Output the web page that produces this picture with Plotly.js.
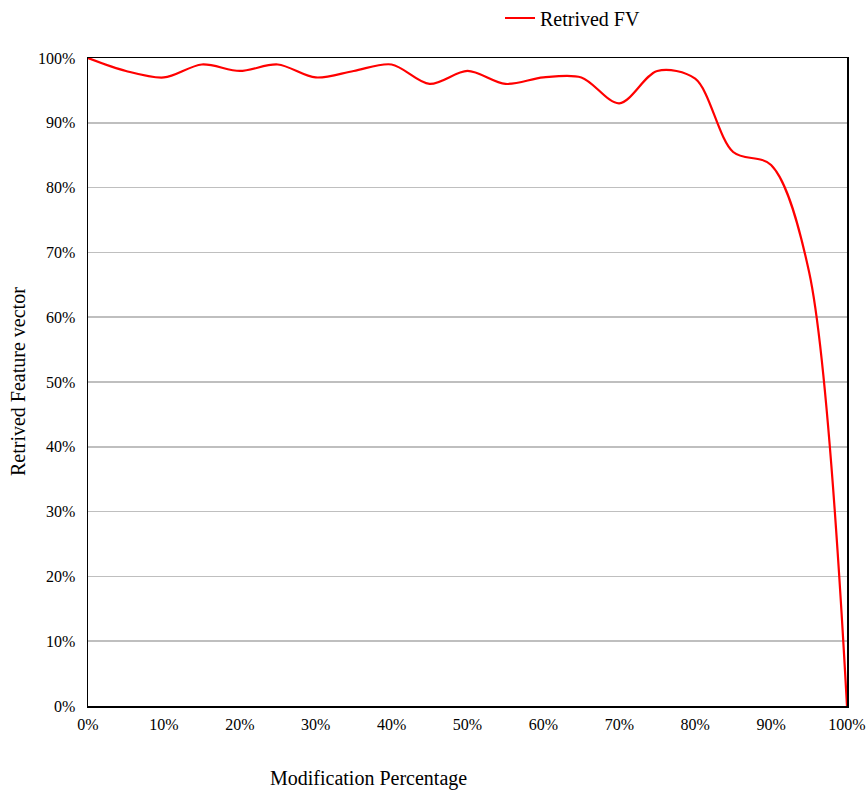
<!DOCTYPE html>
<html>
<head>
<meta charset="utf-8">
<script src="https://cdn.plot.ly/plotly-3.0.1.min.js"></script>
<style>html,body{margin:0;padding:0;background:#fff;}#chart{width:867px;height:792px;}</style>
</head>
<body>
<div id="chart"></div>
<script>
const modificationPct = [0, 5, 10, 15, 20, 25, 30, 35, 40, 45, 50, 55, 60, 65, 70, 75, 80, 85, 90, 95, 100];
const retrivedFV = [100, 98, 97, 99, 98, 99, 97, 98, 99, 96, 98, 96, 97, 97, 93, 98, 96.8, 85.5, 83.5, 67, 0];
const tickVals = [0, 10, 20, 30, 40, 50, 60, 70, 80, 90, 100];
const tickText = tickVals.map(v => v + '%');
const seriesName = 'Retrived FV';
const xTitle = 'Modification Percentage';
const yTitle = 'Retrived Feature vector';

const font = 'Liberation Serif, Times New Roman, serif';

const trace = {
  x: modificationPct,
  y: retrivedFV,
  type: 'scatter',
  mode: 'lines',
  name: seriesName,
  line: {color: '#ff0000', width: 2.2, shape: 'spline', smoothing: 0.9}
};

const axisCommon = {
  range: [0, 100],
  tickvals: tickVals,
  ticktext: tickText,
  showline: true,
  linecolor: '#000',
  linewidth: 1.5,
  mirror: true,
  zeroline: false,
  ticks: '',
  automargin: false,
  tickfont: {family: font, size: 16, color: '#000'}
};

const layout = {
  width: 867,
  height: 792,
  margin: {l: 88, r: 20, t: 58, b: 86, autoexpand: false},
  paper_bgcolor: '#fff',
  plot_bgcolor: '#fff',
  font: {family: font, color: '#000'},
  showlegend: true,
  legend: {
    orientation: 'h',
    x: (500 - 88) / 759, xanchor: 'left',
    y: (706 - 18) / 648, yanchor: 'middle',
    yref: 'paper',
    font: {family: font, size: 20, color: '#000'},
    bgcolor: 'rgba(0,0,0,0)'
  },
  xaxis: Object.assign({}, axisCommon, {showgrid: false, ticklabelstandoff: 3}),
  yaxis: Object.assign({}, axisCommon, {showgrid: true, gridcolor: '#bfbfbf', gridwidth: 1.5, ticklabelstandoff: 8}),
  annotations: [
    {text: xTitle, xref: 'paper', yref: 'paper', x: (368 - 88) / 759, y: -(778 - 706) / 648,
     xanchor: 'center', yanchor: 'middle', showarrow: false, font: {family: font, size: 20, color: '#000'}},
    {text: yTitle, xref: 'paper', yref: 'paper', x: -(88 - 18) / 759, y: 0.5, textangle: -90,
     xanchor: 'center', yanchor: 'middle', showarrow: false, font: {family: font, size: 20, color: '#000'}}
  ]
};

Plotly.newPlot('chart', [trace], layout, {displayModeBar: false, staticPlot: true});
</script>
</body>
</html>
